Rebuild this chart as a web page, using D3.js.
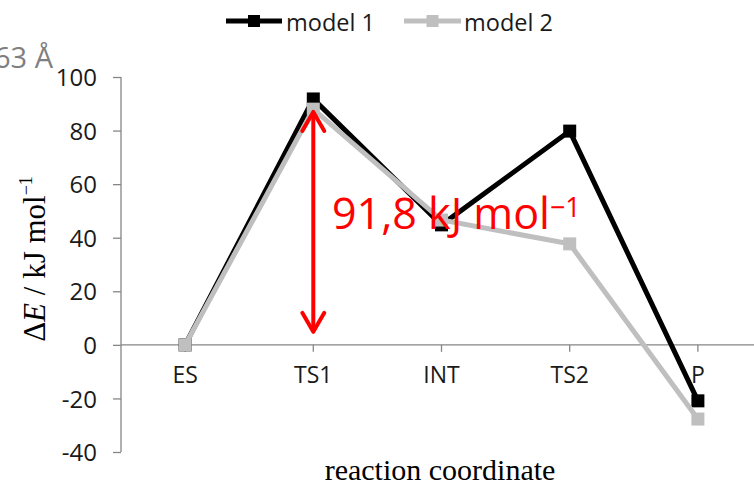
<!DOCTYPE html>
<html>
<head>
<meta charset="utf-8">
<script src="https://cdn.jsdelivr.net/npm/d3@7"></script>
<style>
  html, body { margin: 0; padding: 0; background: #fff; }
  svg { display: block; }
</style>
</head>
<body>
<svg id="chart" width="754" height="485"></svg>
<script>
// Reaction energy profile for two computational models
const categories = ["ES", "TS1", "INT", "TS2", "P"];
const model1 = [0, 91.8, 44.8, 79.8, -20.9];
const model2 = [0, 88.0, 46.6, 37.7, -27.7];
const seriesNames = ["model 1", "model 2"];
const seriesColors = ["#000000", "#bfbfbf"];
const yTicks = [-40, -20, 0, 20, 40, 60, 80, 100];
const barrierValue = 91.8;           // energy barrier ES → TS1
const barrierLabel = "91,8 kJ mol";

const svg = d3.select("#chart");
const tickFont = "'Open Sans', sans-serif";
const serif = "'Liberation Serif', 'Times New Roman', serif";
const axisColor = "#868686";

const x = d3.scaleBand().domain(categories).range([121, 762]).paddingInner(0).paddingOuter(0);
const y = d3.scaleLinear().domain([-40, 100]).range([452, 77]);
const cx = c => x(c) + x.bandwidth() / 2;

// stray label from the slide behind the chart
svg.append("text")
  .attr("x", 53).attr("y", 68)
  .attr("text-anchor", "end")
  .attr("font-family", tickFont).attr("font-size", 29)
  .attr("fill", "#7f7f7f")
  .text("63 Å");

// y axis
const yAxis = svg.append("g").attr("transform", "translate(121,0)")
  .call(d3.axisLeft(y).tickValues(yTicks).tickSize(8).tickPadding(16).tickFormat(d => String(d)));
yAxis.select(".domain").attr("stroke", axisColor).attr("stroke-width", 1.3)
  .attr("d", `M0,${y(100)}V${y(-40)}`);
yAxis.selectAll(".tick line").attr("stroke", axisColor).attr("stroke-width", 1.3);
yAxis.selectAll(".tick text").attr("font-family", tickFont).attr("font-size", 24)
  .attr("fill", "#1a1a1a").attr("dy", "0.36em");

// x axis along zero
const xAxis = svg.append("g").attr("transform", `translate(0,${y(0)})`)
  .call(d3.axisBottom(x).tickSize(7).tickPadding(17));
xAxis.select(".domain").attr("stroke", axisColor).attr("stroke-width", 1.3)
  .attr("d", `M121,0H754`);
xAxis.selectAll(".tick line").attr("stroke", axisColor).attr("stroke-width", 1.3);
xAxis.selectAll(".tick text").attr("font-family", tickFont).attr("font-size", 23)
  .attr("fill", "#1a1a1a").attr("dy", "0.62em");

// series lines and square markers
const line = d3.line().x((d, i) => cx(categories[i])).y(d => y(d));
[model1, model2].forEach((vals, s) => {
  const g = svg.append("g");
  g.append("path").datum(vals)
    .attr("d", line).attr("fill", "none")
    .attr("stroke", seriesColors[s]).attr("stroke-width", 5)
    .attr("stroke-linejoin", "miter");
  g.selectAll("rect").data(vals).join("rect")
    .attr("x", (d, i) => cx(categories[i]) - 6.5)
    .attr("y", d => y(d) - 6.5)
    .attr("width", 13).attr("height", 13)
    .attr("fill", seriesColors[s]);
});

// legend
const legendItems = [
  { x0: 226, x1: 282, tx: 286 },
  { x0: 404, x1: 461, tx: 464 }
];
legendItems.forEach((it, s) => {
  const g = svg.append("g");
  g.append("line").attr("x1", it.x0).attr("x2", it.x1).attr("y1", 21).attr("y2", 21)
    .attr("stroke", seriesColors[s]).attr("stroke-width", 5);
  g.append("rect").attr("x", (it.x0 + it.x1) / 2 - 6).attr("y", 15).attr("width", 12).attr("height", 12)
    .attr("fill", seriesColors[s]);
  g.append("text").attr("x", it.tx).attr("y", 31)
    .attr("font-family", tickFont).attr("font-size", 23.5).attr("fill", "#1a1a1a")
    .text(seriesNames[s]);
});

// axis titles
const yTitle = svg.append("text")
  .attr("transform", "translate(45,259) rotate(-90)")
  .attr("text-anchor", "middle")
  .attr("font-family", serif).attr("font-size", 31).attr("fill", "#000");
yTitle.append("tspan").text("Δ");
yTitle.append("tspan").attr("font-style", "italic").text("E");
yTitle.append("tspan").text(" / kJ mol");
yTitle.append("tspan").attr("font-size", 18).attr("dy", -13).text("−1");

svg.append("text")
  .attr("x", 440).attr("y", 480)
  .attr("text-anchor", "middle")
  .attr("font-family", serif).attr("font-size", 30).attr("fill", "#000")
  .text("reaction coordinate");

// barrier annotation: double-headed arrow from 0 up to the TS1 energy
const ax = cx("TS1");
const yTop = y(barrierValue) + 13;
const yBot = y(0) - 13;
const red = "#ff0000";
const ann = svg.append("g").attr("stroke", red).attr("stroke-width", 4)
  .attr("fill", "none").attr("stroke-linecap", "round").attr("stroke-linejoin", "round");
ann.append("line").attr("x1", ax).attr("x2", ax).attr("y1", yTop + 1).attr("y2", yBot - 1);
ann.append("path").attr("d", `M${ax - 11},${yTop + 19}L${ax},${yTop}L${ax + 11},${yTop + 19}`);
ann.append("path").attr("d", `M${ax - 11},${yBot - 19}L${ax},${yBot}L${ax + 11},${yBot - 19}`);

const lbl = svg.append("text")
  .attr("x", 332).attr("y", 229)
  .attr("font-family", tickFont).attr("font-size", 43).attr("fill", red);
lbl.append("tspan").text(barrierLabel);
lbl.append("tspan").attr("font-size", 27).attr("dy", -12).text("−1");
</script>
</body>
</html>
